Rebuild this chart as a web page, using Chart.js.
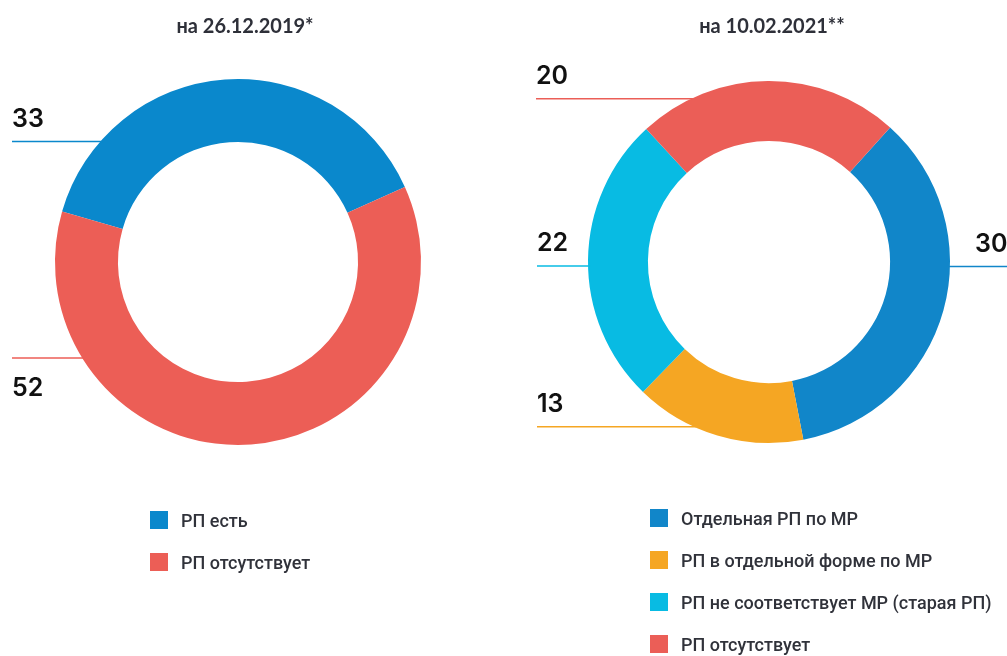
<!DOCTYPE html>
<html>
<head>
<meta charset="utf-8">
<script src="https://cdn.jsdelivr.net/npm/chart.js@4.4.0/dist/chart.umd.min.js"></script>
<style>
  html, body { margin: 0; padding: 0; background: #fff; }
  body { width: 1007px; height: 656px; position: relative; overflow: hidden; }
  .box { position: absolute; top: 0; height: 656px; }
  .title { position: absolute; top: 13px; font: 700 20px Lato, sans-serif; color: #2e3039; white-space: nowrap; transform: translateX(-50%); }
  .legend { position: absolute; }
  .legend .row { display: flex; align-items: center; height: 18px; margin-bottom: 24px; font: 500 18px Roboto, sans-serif; color: #30323a; white-space: nowrap; }
  .legend .sw { width: 18px; height: 18px; margin-right: 13px; flex: none; }
</style>
</head>
<body>
<div class="box" style="left:0;width:500px"><canvas id="leftChart"></canvas></div>
<div class="box" style="left:500px;width:507px"><canvas id="rightChart"></canvas></div>
<div class="title" style="left:245px">на 26.12.2019*</div>
<div class="title" style="left:772px">на 10.02.2021**</div>
<div class="legend" id="leftLegend" style="left:150px;top:511px"></div>
<div class="legend" id="rightLegend" style="left:650px;top:509px"></div>
<script>
// values
const leftLabels = ['РП есть', 'РП отсутствует'];
const leftValues = [33, 52];
const leftColors = ['#0a88cc', '#ec5e56'];

const rightLabels = ['Отдельная РП по МР', 'РП в отдельной форме по МР', 'РП не соответствует МР (старая РП)', 'РП отсутствует'];
const rightValues = [30, 13, 22, 20];
const rightColors = ['#1186c9', '#f5a623', '#08bbe3', '#eb5e57'];

//draws the numbers with the thin horizontal lines going to the ring
const leaderLabels = {
  id: 'leaderLabels',
  afterDraw(chart, args, opts) {
    const arcs = chart.getDatasetMeta(0).data;
    if (!arcs.length) return;
    const cx = arcs[0].x, cy = arcs[0].y, r = arcs[0].outerRadius;
    const values = chart.data.datasets[0].data;
    const colors = chart.data.datasets[0].backgroundColor;
    const ctx = chart.ctx;
    ctx.save();
    opts.items.forEach((it, i) => {
      const y = cy + it.dy;
      const dx = Math.sqrt(Math.max(r * r - it.dy * it.dy, 0));
      let x1, x2;
      if (it.side === 'left') { x1 = it.x; x2 = cx - dx + 2; }
      else { x1 = cx + dx - 2; x2 = chart.width; }
      ctx.strokeStyle = colors[i];
      ctx.lineWidth = 1.6;
      ctx.beginPath();
      ctx.moveTo(x1, y);
      ctx.lineTo(x2, y);
      ctx.stroke();
      ctx.fillStyle = '#111';
      ctx.font = '600 25px Inter, sans-serif';
      ctx.textBaseline = 'alphabetic';
      ctx.textAlign = 'left';
      ctx.fillText(String(values[i]), it.x, it.above ? y - 15 : y + 38);
    });
    ctx.restore();
  }
};

function buildChart(id, labels, values, colors, rotation, radius, cutout, padding, items) {
  return new Chart(document.getElementById(id), {
    type: 'doughnut',
    data: {
      labels: labels,
      datasets: [{ data: values, backgroundColor: colors, borderWidth: 0 }]
    },
    options: {
      responsive: true,
      maintainAspectRatio: false,
      animation: false,
      events: [],
      rotation: rotation,
      radius: radius,
      cutout: cutout,
      layout: { padding: padding },
      plugins: {
        legend: { display: false },
        tooltip: { enabled: false },
        leaderLabels: { items: items }
      }
    },
    plugins: [leaderLabels]
  });
}

buildChart('leftChart', leftLabels, leftValues, leftColors, -74, 183, '65.6%',
  { left: 0, right: 24, top: 0, bottom: 132 },
  [
    { dy: -120.5, side: 'left', x: 12, above: true },
    { dy: 96, side: 'left', x: 12, above: false }
  ]);

buildChart('rightChart', rightLabels, rightValues, rightColors, 42, 181, '66.9%',
  { left: 31, right: 0, top: 0, bottom: 132 },
  [
    { dy: 4.5, side: 'right', x: 475, above: true },
    { dy: 164.7, side: 'left', x: 37, above: true },
    { dy: 4, side: 'left', x: 37, above: true },
    { dy: -163.3, side: 'left', x: 36, above: true }
  ]);

//html legends built from the same arrays
function buildLegend(id, labels, colors) {
  const el = document.getElementById(id);
  labels.forEach((l, i) => {
    const row = document.createElement('div');
    row.className = 'row';
    row.innerHTML = '<span class="sw" style="background:' + colors[i] + '"></span><span>' + l + '</span>';
    el.appendChild(row);
  });
}
buildLegend('leftLegend', leftLabels, leftColors);
buildLegend('rightLegend', rightLabels, rightColors);
</script>
</body>
</html>
